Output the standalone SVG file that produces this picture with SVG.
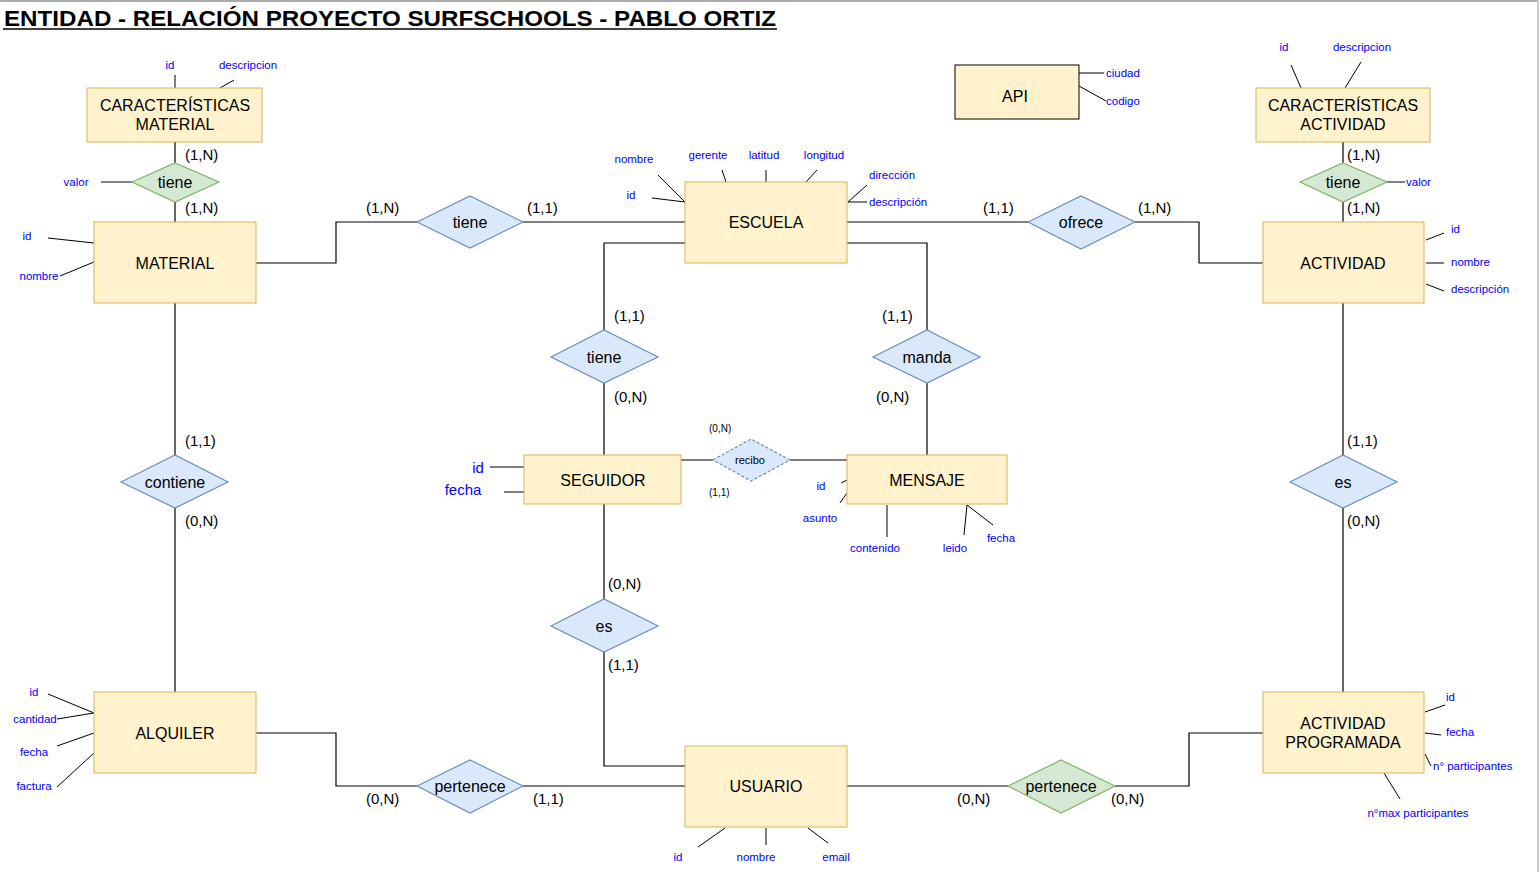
<svg xmlns="http://www.w3.org/2000/svg" width="1540" height="872" viewBox="0 0 1540 872">
<style>
.ent{fill:#fff2cc;stroke:#d6b656;stroke-width:1}
.rb{fill:#dae8fc;stroke:#6c8ebf;stroke-width:1.2}
.rg{fill:#d5e8d4;stroke:#82b366;stroke-width:1.2}
.ln{fill:none;stroke:#000;stroke-width:1.2}
.al{fill:none;stroke:#000;stroke-width:1}
text{font-family:"Liberation Sans",Arial,Helvetica,sans-serif}
.t{font-size:16px;fill:#000;text-anchor:middle;dominant-baseline:central}
.c{font-size:15px;fill:#000;dominant-baseline:central}
.a{font-size:11.5px;fill:#0000ff;dominant-baseline:central}
.big{font-size:15px}
.sm{font-size:10px}
.sm11{font-size:11px}
</style>
<rect x="0" y="0" width="1540" height="872" fill="#fff"/>
<line x1="0" y1="1" x2="1538" y2="1" stroke="#aaa" stroke-width="2"/>
<line x1="1538" y1="0" x2="1538" y2="872" stroke="#ccc" stroke-width="2"/>
<text x="4" y="26" font-size="22" font-weight="bold" textLength="772" lengthAdjust="spacingAndGlyphs" fill="#000">ENTIDAD - RELACIÓN PROYECTO SURFSCHOOLS - PABLO ORTIZ</text>
<line x1="3" y1="29" x2="777" y2="29" stroke="#000" stroke-width="1.5"/>

<g id="connectors">
<path class="ln" d="M175,142V163M175,202V222"/>
<path class="ln" d="M256,263H336V222H417M523,222H685"/>
<path class="ln" d="M847,222H1028M1135,222H1199V263H1263"/>
<path class="ln" d="M1343,142V163M1343,202V222"/>
<path class="ln" d="M685,243H604V330M604,383V455"/>
<path class="ln" d="M847,243H927V330M927,383V455"/>
<path class="ln" d="M681,460H713M790,460H847"/>
<path class="ln" d="M604,504V599M604,652V766H685"/>
<path class="ln" d="M175,303V455M175,508V692"/>
<path class="ln" d="M1343,303V455M1343,508V692"/>
<path class="ln" d="M256,733H336V786H417M523,786H685"/>
<path class="ln" d="M847,786H1008M1115,786H1189V733H1263"/>
</g>

<g id="attr-lines">
<path class="al" d="M175,75V88M234,80L220,88M101,182H132M48,238L94,243M60,276L94,262"/>
<path class="al" d="M658,175L685,202M652,198L685,202M722,170L726,182M766,170V182M817,170L806,182M867,185L848,202M848,202H867"/>
<path class="al" d="M1079,73H1104M1079,86L1106,101"/>
<path class="al" d="M1291,65L1301,88M1361,62L1345,88M1387,182H1405"/>
<path class="al" d="M1426,240L1444,233M1426,263H1444M1426,284L1444,291"/>
<path class="al" d="M490,467H524M504,492H524"/>
<path class="al" d="M841,483L847,480M840,503L847,493M887,505V537M967,505L964,535M967,505L993,525"/>
<path class="al" d="M698,847L725,828M766,828V845M808,828L828,843"/>
<path class="al" d="M48,694L94,713M57,719L94,713M57,746L94,733M57,787L94,753"/>
<path class="al" d="M1425,712L1445,705M1425,733L1441,735M1425,754L1431,766M1384,773L1400,799"/>
</g>

<g id="caract-material">
<rect class="ent" x="87" y="88" width="175" height="54"/>
<text class="t" x="175" y="105">CARACTERÍSTICAS</text>
<text class="t" x="175" y="124">MATERIAL</text>
<text class="a" x="170" y="65" text-anchor="middle">id</text>
<text class="a" x="248" y="65" text-anchor="middle">descripcion</text>
</g>
<g id="tiene-mat">
<polygon class="rg" points="132,182 175,163 219,182 175,202"/>
<text class="t" x="175" y="182">tiene</text>
<text class="c" x="185" y="154">(1,N)</text>
<text class="c" x="185" y="207">(1,N)</text>
<text class="a" x="76" y="182" text-anchor="middle">valor</text>
</g>
<g id="material">
<rect class="ent" x="94" y="222" width="162" height="81"/>
<text class="t" x="175" y="263">MATERIAL</text>
<text class="a" x="27" y="236" text-anchor="middle">id</text>
<text class="a" x="39" y="276" text-anchor="middle">nombre</text>
</g>
<g id="tiene-escuela">
<polygon class="rb" points="417,222 470,196 523,222 470,248"/>
<text class="t" x="470" y="222">tiene</text>
<text class="c" x="366" y="207">(1,N)</text>
<text class="c" x="527" y="207">(1,1)</text>
</g>
<g id="escuela">
<rect class="ent" x="685" y="182" width="162" height="81"/>
<text class="t" x="766" y="222">ESCUELA</text>
<text class="a" x="634" y="159" text-anchor="middle">nombre</text>
<text class="a" x="631" y="195" text-anchor="middle">id</text>
<text class="a" x="708" y="155" text-anchor="middle">gerente</text>
<text class="a" x="764" y="155" text-anchor="middle">latitud</text>
<text class="a" x="824" y="155" text-anchor="middle">longitud</text>
<text class="a" x="869" y="175">dirección</text>
<text class="a" x="869" y="202">descripción</text>
</g>
<g id="ofrece">
<polygon class="rb" points="1028,222 1081,196 1135,222 1081,249"/>
<text class="t" x="1081" y="222">ofrece</text>
<text class="c" x="983" y="207">(1,1)</text>
<text class="c" x="1138" y="207">(1,N)</text>
</g>
<g id="api">
<rect x="955" y="65" width="124" height="54" fill="#fff2cc" stroke="#000" stroke-width="1"/>
<text class="t" x="1015" y="96">API</text>
<text class="a" x="1106" y="73">ciudad</text>
<text class="a" x="1106" y="101">codigo</text>
</g>
<g id="caract-actividad">
<rect class="ent" x="1256" y="88" width="174" height="54"/>
<text class="t" x="1343" y="105">CARACTERÍSTICAS</text>
<text class="t" x="1343" y="124">ACTIVIDAD</text>
<text class="a" x="1284" y="47" text-anchor="middle">id</text>
<text class="a" x="1362" y="47" text-anchor="middle">descripcion</text>
</g>
<g id="tiene-act">
<polygon class="rg" points="1300,182 1343,163 1387,182 1343,202"/>
<text class="t" x="1343" y="182">tiene</text>
<text class="c" x="1347" y="154">(1,N)</text>
<text class="c" x="1347" y="207">(1,N)</text>
<text class="a" x="1406" y="182">valor</text>
</g>
<g id="actividad">
<rect class="ent" x="1263" y="222" width="161" height="81"/>
<text class="t" x="1343" y="263">ACTIVIDAD</text>
<text class="a" x="1451" y="229">id</text>
<text class="a" x="1451" y="262">nombre</text>
<text class="a" x="1451" y="289">descripción</text>
</g>
<g id="tiene-seguidor">
<polygon class="rb" points="551,357 604,330 658,357 604,383"/>
<text class="t" x="604" y="357">tiene</text>
<text class="c" x="614" y="315">(1,1)</text>
<text class="c" x="614" y="396">(0,N)</text>
</g>
<g id="manda">
<polygon class="rb" points="873,357 927,330 980,357 927,383"/>
<text class="t" x="927" y="357">manda</text>
<text class="c" x="882" y="315">(1,1)</text>
<text class="c" x="876" y="396">(0,N)</text>
</g>
<g id="seguidor">
<rect class="ent" x="524" y="455" width="157" height="49"/>
<text class="t" x="603" y="480">SEGUIDOR</text>
<text class="a big" x="478" y="467" text-anchor="middle">id</text>
<text class="a big" x="463" y="489" text-anchor="middle">fecha</text>
</g>
<g id="recibo">
<polygon class="rb" points="713,460 751,439 790,460 751,481" stroke-dasharray="3,2"/>
<text class="t sm11" x="750" y="460">recibo</text>
<text class="c sm" x="709" y="428">(0,N)</text>
<text class="c sm" x="709" y="492">(1,1)</text>
</g>
<g id="mensaje">
<rect class="ent" x="847" y="455" width="160" height="49"/>
<text class="t" x="927" y="480">MENSAJE</text>
<text class="a" x="821" y="486" text-anchor="middle">id</text>
<text class="a" x="820" y="518" text-anchor="middle">asunto</text>
<text class="a" x="875" y="548" text-anchor="middle">contenido</text>
<text class="a" x="955" y="548" text-anchor="middle">leido</text>
<text class="a" x="1001" y="538" text-anchor="middle">fecha</text>
</g>
<g id="contiene">
<polygon class="rb" points="121,482 175,455 228,482 175,508"/>
<text class="t" x="175" y="482">contiene</text>
<text class="c" x="185" y="440">(1,1)</text>
<text class="c" x="185" y="520">(0,N)</text>
</g>
<g id="es-act">
<polygon class="rb" points="1290,482 1343,455 1397,482 1343,508"/>
<text class="t" x="1343" y="482">es</text>
<text class="c" x="1347" y="440">(1,1)</text>
<text class="c" x="1347" y="520">(0,N)</text>
</g>
<g id="es-usuario">
<polygon class="rb" points="551,626 604,599 658,626 604,652"/>
<text class="t" x="604" y="626">es</text>
<text class="c" x="608" y="583">(0,N)</text>
<text class="c" x="608" y="664">(1,1)</text>
</g>
<g id="alquiler">
<rect class="ent" x="94" y="692" width="162" height="81"/>
<text class="t" x="175" y="733">ALQUILER</text>
<text class="a" x="34" y="692" text-anchor="middle">id</text>
<text class="a" x="35" y="719" text-anchor="middle">cantidad</text>
<text class="a" x="34" y="752" text-anchor="middle">fecha</text>
<text class="a" x="34" y="786" text-anchor="middle">factura</text>
</g>
<g id="pertenece-alq">
<polygon class="rb" points="417,786 470,760 523,786 470,813"/>
<text class="t" x="470" y="786">pertenece</text>
<text class="c" x="366" y="798">(0,N)</text>
<text class="c" x="533" y="798">(1,1)</text>
</g>
<g id="usuario">
<rect class="ent" x="685" y="746" width="162" height="81"/>
<text class="t" x="766" y="786">USUARIO</text>
<text class="a" x="678" y="857" text-anchor="middle">id</text>
<text class="a" x="756" y="857" text-anchor="middle">nombre</text>
<text class="a" x="836" y="857" text-anchor="middle">email</text>
</g>
<g id="pertenece-act">
<polygon class="rg" points="1008,786 1061,760 1115,786 1061,813"/>
<text class="t" x="1061" y="786">pertenece</text>
<text class="c" x="957" y="798">(0,N)</text>
<text class="c" x="1111" y="798">(0,N)</text>
</g>
<g id="actividad-programada">
<rect class="ent" x="1263" y="692" width="161" height="81"/>
<text class="t" x="1343" y="723">ACTIVIDAD</text>
<text class="t" x="1343" y="742">PROGRAMADA</text>
<text class="a" x="1446" y="697">id</text>
<text class="a" x="1446" y="732">fecha</text>
<text class="a" x="1433" y="766">n° participantes</text>
<text class="a" x="1418" y="813" text-anchor="middle">n°max participantes</text>
</g>
</svg>
